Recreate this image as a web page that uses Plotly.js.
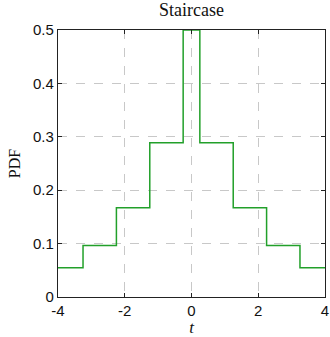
<!DOCTYPE html>
<html><head><meta charset="utf-8">
<script src="https://cdn.plot.ly/plotly-3.0.1.min.js"></script>
<style>html,body{margin:0;padding:0;background:#fff;}#chart{width:330px;height:337px;}</style>
</head><body><div id="chart"></div>
<script>
const stepEdges = [-4, -3.25, -2.25, -1.25, -0.25, 0.25, 1.25, 2.25, 3.25, 4];
const pdfValues = [0.055, 0.0964, 0.167, 0.289, 0.5, 0.289, 0.167, 0.0964, 0.055, 0.055];
const xTicks = [-4, -2, 0, 2, 4];
const yTicks = [0, 0.1, 0.2, 0.3, 0.4, 0.5];

const trace = {
  x: stepEdges, y: pdfValues, type: 'scatter', mode: 'lines',
  line: {shape: 'hv', color: '#22a02a', width: 1.5}, cliponaxis: true, hoverinfo: 'none'
};
const axisCommon = {
  showline: true, linecolor: '#222', linewidth: 1.2, mirror: 'ticks',
  ticks: 'inside', ticklen: 4, tickcolor: '#222',
  showgrid: true, gridcolor: '#c8c8c8', griddash: 'dash', gridwidth: 1,
  zeroline: false, tickfont: {family: 'Liberation Sans, Arial, sans-serif', size: 15, color: '#111'}
};
const layout = {
  width: 330, height: 337, margin: {l: 58, r: 5, t: 30, b: 40},
  paper_bgcolor: '#fff', plot_bgcolor: '#fff', showlegend: false,
  title: {text: 'Staircase', x: 0.58, xanchor: 'center', y: 0.99, yanchor: 'top',
    font: {family: 'Liberation Serif, DejaVu Serif, serif', size: 18, color: '#111'}},
  xaxis: Object.assign({}, axisCommon, {range: [-4, 4], tickvals: xTicks, ticktext: xTicks.map(String),
    title: {text: '<i>t</i>', standoff: 3, font: {family: 'Liberation Serif, serif', size: 17, color: '#111'}}}),
  yaxis: Object.assign({}, axisCommon, {range: [0, 0.5], tickvals: yTicks, ticktext: yTicks.map(v => v === 0 ? '0' : v.toFixed(1)),
    title: {text: 'PDF', standoff: 8, font: {family: 'Liberation Serif, serif', size: 16, color: '#111'}}})
};
Plotly.newPlot('chart', [trace], layout, {displayModeBar: false, staticPlot: true});
</script></body></html>
